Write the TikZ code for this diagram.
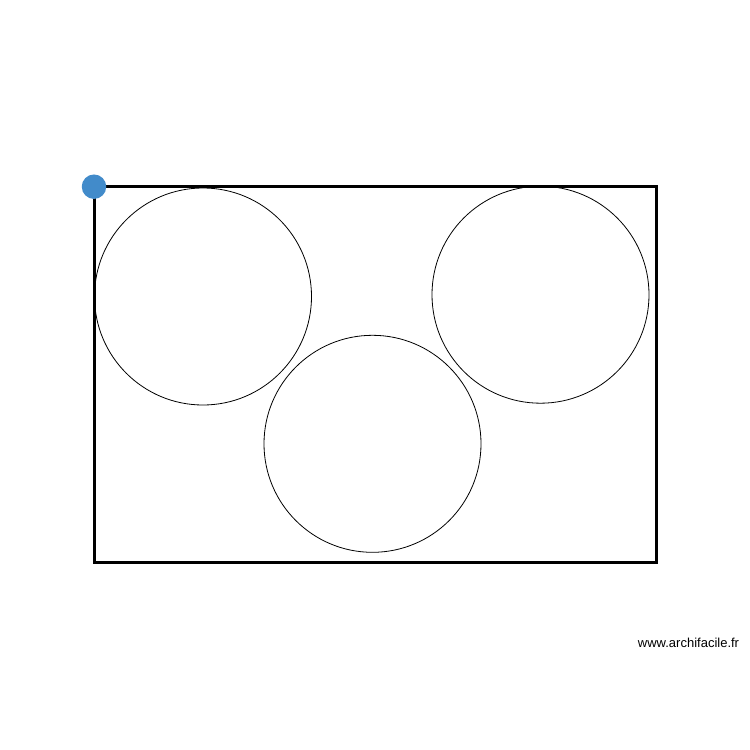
\documentclass[tikz,border=0pt]{standalone}
\usepackage{fontspec}
\setmainfont{Liberation Sans}
\definecolor{dotblue}{RGB}{66,139,202}
\begin{document}
\begin{tikzpicture}[x=1pt,y=-1pt,
  wall/.style={draw=black,line width=3pt,line join=miter},
  table/.style={draw=black,line width=0.8pt,circle,inner sep=0pt,minimum size=217pt},
  marker/.style={fill=dotblue,circle,inner sep=0pt,minimum size=24.5pt},
  credit/.style={font=\fontsize{13}{15}\selectfont,text=black}]
\fill[white] (0,0) rectangle (750,750);
\useasboundingbox (0,0) rectangle (750,750);
\draw[wall] (94,186.5) rectangle (656,562);
\node[table] (c1) at (203,296.5) {};
\node[table] (c2) at (540.5,294.7) {};
\node[table] (c3) at (372.5,443.8) {};
\node[marker] (m) at (94,186.7) {};
\node[credit] (t) at (688.5,643) {www.archifacile.fr};
\end{tikzpicture}
\end{document}
